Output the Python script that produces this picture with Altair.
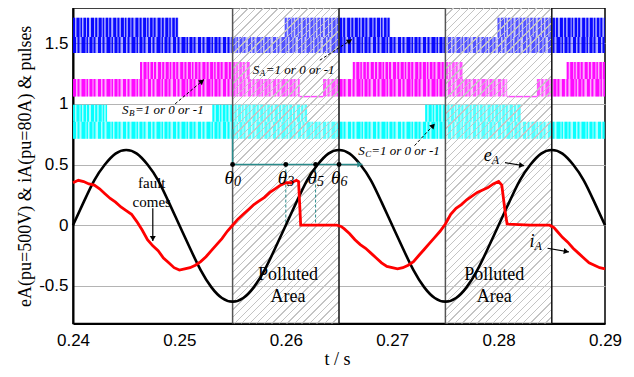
import math
import altair as alt
import pandas as pd

SERIF = "Liberation Serif"
SANS = "Liberation Sans"

# ---------------- axes ----------------
X_MIN, X_MAX = 0.24, 0.29
Y_MIN, Y_MAX = -0.81, 1.79
x_ticks = [0.24, 0.25, 0.26, 0.27, 0.28, 0.29]
y_ticks = [-0.5, 0, 0.5, 1, 1.5]

W, H = 532, 315.5
PXX = W / (X_MAX - X_MIN)
PXY = H / (Y_MAX - Y_MIN)

# ---------------- eA (black) ----------------
eA_t = [round(0.240 + 0.001 * k, 3) for k in range(51)]
eA_v = [0.00, 0.19, 0.37, 0.50, 0.59, 0.62, 0.59, 0.50, 0.37, 0.19,
        0.00, -0.19, -0.37, -0.51, -0.60, -0.63, -0.60, -0.51, -0.37, -0.19,
        0.00, 0.19, 0.37, 0.50, 0.59, 0.62, 0.59, 0.50, 0.37, 0.19,
        0.00, -0.19, -0.37, -0.51, -0.60, -0.63, -0.60, -0.51, -0.37, -0.19,
        0.00, 0.19, 0.37, 0.50, 0.59, 0.62, 0.59, 0.50, 0.37, 0.19,
        0.00]

# ---------------- iA (red) ----------------
iA_t = [0.2400, 0.2405, 0.2410, 0.2415, 0.2420, 0.2425, 0.2430, 0.2435, 0.2440, 0.2445,
        0.2450, 0.2455, 0.2460, 0.2465, 0.2470, 0.2475, 0.2480, 0.2485, 0.2490, 0.2495,
        0.2500, 0.2505, 0.2510, 0.2515, 0.2520, 0.2525, 0.2530, 0.2535, 0.2540, 0.2545,
        0.2550, 0.2555, 0.2560, 0.2565, 0.2570, 0.2575, 0.2580, 0.2585, 0.2590, 0.2595,
        0.2600, 0.2605, 0.2610, 0.2612, 0.2614, 0.2630, 0.2648, 0.2652, 0.2655, 0.2660,
        0.2665, 0.2670, 0.2675, 0.2680, 0.2685, 0.2690, 0.2695, 0.2700, 0.2705, 0.2710,
        0.2715, 0.2720, 0.2725, 0.2730, 0.2735, 0.2740, 0.2745, 0.2750, 0.2755, 0.2760,
        0.2765, 0.2770, 0.2775, 0.2780, 0.2785, 0.2790, 0.2795, 0.2800, 0.2803, 0.2806,
        0.2808, 0.2830, 0.2848, 0.2852, 0.2855, 0.2860, 0.2865, 0.2870, 0.2875, 0.2880,
        0.2885, 0.2890, 0.2895, 0.2900]
iA_v = [0.35, 0.37, 0.36, 0.34, 0.33, 0.30, 0.26, 0.22, 0.19, 0.15,
        0.12, 0.09, 0.03, -0.04, -0.12, -0.17, -0.21, -0.27, -0.31, -0.35,
        -0.37, -0.36, -0.35, -0.33, -0.30, -0.26, -0.21, -0.16, -0.11, -0.05,
        0.00, 0.05, 0.09, 0.13, 0.17, 0.20, 0.23, 0.27, 0.30, 0.33,
        0.35, 0.35, 0.37, 0.36, 0.00, 0.00, 0.00, -0.01, -0.03, -0.07,
        -0.12, -0.16, -0.19, -0.23, -0.27, -0.31, -0.34, -0.35, -0.36, -0.35,
        -0.33, -0.30, -0.25, -0.20, -0.15, -0.10, -0.05, 0.01, 0.09, 0.14,
        0.17, 0.21, 0.24, 0.27, 0.29, 0.31, 0.34, 0.36, 0.33, 0.12,
        0.01, 0.00, 0.00, -0.02, -0.05, -0.10, -0.14, -0.19, -0.23, -0.27,
        -0.31, -0.33, -0.35, -0.36]

# ---------------- pulses ----------------
SA_levels = (1.42, 1.55, 1.71)
SB_levels = (1.06, 1.205, 1.345)
SC_levels = (0.713, 0.853, 0.992)
SA_upper = [(0.2400, 0.2499), (0.2599, 0.2698), (0.2799, 0.2900)]
SA_lower = [(0.2400, 0.2900)]
SB_upper = [(0.2463, 0.2566), (0.2663, 0.2766), (0.2864, 0.2900)]
SB_lower = [(0.2400, 0.2613), (0.2635, 0.2808), (0.2836, 0.2900)]
SB_flat = [(0.2613, 0.2635), (0.2808, 0.2836)]
SC_upper = [(0.2400, 0.2432), (0.2531, 0.2620), (0.2731, 0.2821)]
SC_lower = [(0.2400, 0.2900)]

polluted = [(0.255, 0.265), (0.275, 0.285)]
boundaries = [0.255, 0.265, 0.275, 0.285]
boundary_colors = ["#555555", "#111111", "#555555", "#111111"]

theta_x = [0.255, 0.260, 0.2628, 0.265]
theta_names = ["0", "3", "5", "6"]
theta_y = 0.5

# ---------------- build tables ----------------
rows = []
for (segs, lv, col, kind) in [(SA_upper, (SA_levels[1], SA_levels[2]), "#0000ff", "u"),
                              (SA_lower, (SA_levels[0], SA_levels[1]), "#0000ff", "l"),
                              (SB_upper, (SB_levels[1], SB_levels[2]), "#ff00ff", "u"),
                              (SB_lower, (SB_levels[0], SB_levels[1]), "#ff00ff", "l"),
                              (SC_upper, (SC_levels[1], SC_levels[2]), "#00ffff", "u"),
                              (SC_lower, (SC_levels[0], SC_levels[1]), "#00ffff", "l")]:
    for a, b in segs:
        rows.append(dict(x=a, x2=b, ylo=lv[0], yhi=lv[1], ymid=(lv[0] + lv[1]) / 2,
                         sw=(lv[1] - lv[0]) * PXY, color=col, kind=kind))
pulse_df = pd.DataFrame(rows)
flat_df = pd.DataFrame([dict(x=a, x2=b, y=SB_levels[0], color="#ff00ff") for a, b in SB_flat])

eA_df = pd.DataFrame({"x": eA_t, "y": eA_v})
iA_df = pd.DataFrame({"x": iA_t, "y": iA_v})
pol_df = pd.DataFrame([dict(x=a, x2=b) for a, b in polluted])
bnd_df = pd.DataFrame({"x": boundaries, "color": boundary_colors})

xs = alt.Scale(domain=[X_MIN, X_MAX], nice=False, zero=False)
ys = alt.Scale(domain=[Y_MIN, Y_MAX], nice=False, zero=False)

XAXIS = alt.Axis(
    values=x_ticks, format=".2f", title="t / s", labelFont=SANS, labelFontSize=17,
    labelColor="black", labelPadding=9, labelFlush=False, tickSize=0, domainColor="black",
    domainWidth=2, grid=False, titleFont=SERIF, titleFontSize=18, titleFontWeight="normal",
    titleColor="black", titleX=W / 2 - 2, titleY=36, titleAlign="center", titleBaseline="middle")
YAXIS = alt.Axis(
    values=y_ticks, labelExpr="'' + datum.value", title="eA(pu=500V) & iA(pu=80A) & pulses",
    labelFont=SANS, labelFontSize=17, labelColor="black", labelPadding=5, labelFlush=False,
    tickSize=0, domainColor="black", domainWidth=2, grid=True, gridColor="#b4b4b4", gridWidth=1,
    titleFont=SERIF, titleFontSize=18, titleFontWeight="normal", titleColor="black",
    titleX=-48, titleY=H / 2, titleAngle=270, titleAlign="center", titleBaseline="middle")


def X(f="x"):
    return alt.X(f"{f}:Q", scale=xs, axis=XAXIS)


def Y(f="y"):
    return alt.Y(f"{f}:Q", scale=ys, axis=YAXIS)


# hatch gradient (style only): 45 degree lines, ~7 px apart horizontally
ang = math.radians(45)
Wr, Hr = 0.01 * PXX, H
gx, gy = math.sin(ang) / Hr, math.cos(ang) / Wr
s = (gx + gy) / (gx * gx + gy * gy)
x2g, y2g = s * gx, s * gy
dt_dpx = (x2g / Wr) / (x2g * x2g + y2g * y2g)
N = int(round(1 / (7.5 * dt_dpx)))
LINE = "#c4c4c4"
BG = "rgba(255,255,255,0.3)"
stops = []
for i in range(N):
    o0, o1, o2 = i / N, (i + 0.18) / N, (i + 1) / N
    stops += [alt.GradientStop(offset=o0, color=LINE),
              alt.GradientStop(offset=o1, color=LINE),
              alt.GradientStop(offset=o1, color=BG),
              alt.GradientStop(offset=min(o2, 1.0), color=BG)]
hatch_fill = alt.LinearGradient(gradient="linear", stops=stops, x1=0, y1=0, x2=x2g, y2=y2g)

# ---------------- layers ----------------
pulse_tint = alt.Chart(pulse_df).mark_rect(opacity=0.32).encode(
    x=X("x"), x2="x2", y=Y("ylo"), y2="yhi", color=alt.Color("color:N", scale=None))
pulse_up = alt.Chart(pulse_df[pulse_df.kind == "u"]).mark_rule(
    strokeDash=[2, 1.5, 3, 1, 1.5, 1.5, 2.5, 1, 2, 2, 3, 1.2],
    strokeCap="butt", opacity=0.95).encode(
    x=X("x"), x2="x2", y=Y("ymid"), size=alt.Size("sw:Q", scale=None),
    color=alt.Color("color:N", scale=None))
pulse_lo = alt.Chart(pulse_df[pulse_df.kind == "l"]).mark_rule(
    strokeDash=[3, 1.5, 2, 2, 4, 1, 1.5, 1.5, 3, 1, 2, 2.5],
    strokeCap="butt", opacity=0.95).encode(
    x=X("x"), x2="x2", y=Y("ymid"), size=alt.Size("sw:Q", scale=None),
    color=alt.Color("color:N", scale=None))
flat_lines = alt.Chart(flat_df).mark_rule(strokeWidth=1.5).encode(
    x=X("x"), x2="x2", y=Y("y"), color=alt.Color("color:N", scale=None))

hatch = alt.Chart(pol_df).mark_rect(fill=hatch_fill).encode(
    x=X("x"), x2="x2", y=alt.value(0), y2=alt.value(H))
bnd = alt.Chart(bnd_df).mark_rule(strokeWidth=1.5).encode(
    x=X("x"), color=alt.Color("color:N", scale=None))

# teal construction lines
TEAL = "#2a8c8c"
teal_df = pd.DataFrame([dict(x=0.255, y=0.5, x2=0.2672, y2=0.5),
                        dict(x=0.255, y=0.5, x2=0.255, y2=0.79)])
teal_dash_df = pd.DataFrame([dict(x=theta_x[1], y=theta_y, x2=theta_x[1], y2=0.0),
                             dict(x=theta_x[2], y=theta_y, x2=theta_x[2], y2=0.0)])
teal = alt.Chart(teal_df).mark_rule(color=TEAL, strokeWidth=1.5).encode(
    x=X("x"), y=Y("y"), x2="x2", y2="y2")
teal_dash = alt.Chart(teal_dash_df).mark_rule(color=TEAL, strokeWidth=1, strokeDash=[3, 2]).encode(
    x=X("x"), y=Y("y"), x2="x2", y2="y2")

eA_line = alt.Chart(eA_df).mark_line(color="black", strokeWidth=2.6, interpolate="natural").encode(
    x=X(), y=Y())
iA_line = alt.Chart(iA_df).mark_line(color="#ff0000", strokeWidth=2.8).encode(x=X(), y=Y())

dots = alt.Chart(pd.DataFrame({"x": theta_x, "y": [theta_y] * 4})).mark_circle(
    size=24, color="black", opacity=1).encode(x=X(), y=Y())

# arrows
arrows = [
    dict(x=0.2632, y=1.36, x2=0.2662, y2=1.53, dash=True, color="black"),
    dict(x=0.2496, y=1.00, x2=0.2523, y2=1.20, dash=True, color="black"),
    dict(x=0.2721, y=0.656, x2=0.2740, y2=0.836, dash=True, color="black"),
    dict(x=0.2475, y=0.14, x2=0.2475, y2=-0.13, dash=False, color="black"),
    dict(x=0.2806, y=0.515, x2=0.2824, y2=0.49, dash=False, color="black"),
    dict(x=0.2846, y=-0.19, x2=0.2866, y2=-0.22, dash=False, color="black"),
    dict(x=0.255, y=0.5, x2=0.2672, y2=0.5, dash=False, color=TEAL),
]
arr_df = pd.DataFrame(arrows)
heads = []
for a in arrows:
    dxp = (a["x2"] - a["x"]) * PXX
    dyp = -(a["y2"] - a["y"]) * PXY
    L = math.hypot(dxp, dyp)
    ux, uy = dxp / L, dyp / L
    back = 2.5
    heads.append(dict(x=a["x2"] - ux * back / PXX, y=a["y2"] + uy * back / PXY,
                      ang=math.degrees(math.atan2(dxp, -dyp)) % 360, color=a["color"]))
head_df = pd.DataFrame(heads)
arr_dash = alt.Chart(arr_df[arr_df.dash & (arr_df.color == "black")]).mark_rule(
    strokeWidth=1, strokeDash=[3, 2], color="black").encode(x=X("x"), y=Y("y"), x2="x2", y2="y2")
arr_solid = alt.Chart(arr_df[(~arr_df.dash) & (arr_df.color == "black")]).mark_rule(
    strokeWidth=1.2, color="black").encode(x=X("x"), y=Y("y"), x2="x2", y2="y2")
arr_heads = alt.Chart(head_df).mark_point(shape="triangle-up", filled=True, size=36, opacity=1).encode(
    x=X(), y=Y(), angle=alt.Angle("ang:Q", scale=None), color=alt.Color("color:N", scale=None))


# texts
def off(x, y, dxp, dyp):
    return x + dxp / PXX, y - dyp / PXY


it_rows = []
for (lab, sub, x0, y0) in [("S", "A", 0.2569, 1.28), ("S", "B", 0.2446, 0.95), ("S", "C", 0.2668, 0.61)]:
    it_rows.append(dict(x=x0, y=y0, text=lab, size=13))
    sx, sy = off(x0, y0, 7, 3)
    it_rows.append(dict(x=sx, y=sy, text=sub, size=9))
    rx, ry = off(x0, y0, 13, 0)
    it_rows.append(dict(x=rx, y=ry, text="=1 or 0 or -1", size=13))
for (lab, sub, x0, y0, d) in [("e", "A", 0.2786, 0.57, 8), ("i", "A", 0.2829, -0.135, 5)]:
    it_rows.append(dict(x=x0, y=y0, text=lab, size=18))
    sx, sy = off(x0, y0, d, 4)
    it_rows.append(dict(x=sx, y=sy, text=sub, size=12))
for tx, nm in zip(theta_x, theta_names):
    a1, b1 = off(tx, 0.39, -8, 0)
    it_rows.append(dict(x=a1, y=b1, text="θ", size=19))
    a2, b2 = off(tx, 0.39, 1.5, 4)
    it_rows.append(dict(x=a2, y=b2, text=nm, size=14))
it_df = pd.DataFrame(it_rows)
it_text = alt.Chart(it_df).mark_text(font=SERIF, fontStyle="italic", align="left", baseline="middle",
                                     color="black").encode(
    x=X(), y=Y(), text="text:N", size=alt.Size("size:Q", scale=None))

ct_df = pd.DataFrame([
    dict(x=0.2474, y=0.35, text="fault", size=15),
    dict(x=0.2474, y=0.19, text="comes", size=15),
    dict(x=0.2602, y=-0.41, text="Polluted", size=18),
    dict(x=0.2602, y=-0.59, text="Area", size=18),
    dict(x=0.2796, y=-0.41, text="Polluted", size=18),
    dict(x=0.2796, y=-0.59, text="Area", size=18),
])
ct_text = alt.Chart(ct_df).mark_text(font=SERIF, align="center", baseline="middle", color="black").encode(
    x=X(), y=Y(), text="text:N", size=alt.Size("size:Q", scale=None))

chart = alt.layer(
    pulse_tint, pulse_up, pulse_lo, flat_lines, hatch, bnd, teal, teal_dash,
    eA_line, iA_line, dots, arr_dash, arr_solid, arr_heads, it_text, ct_text,
).properties(
    width=W, height=H,
    padding={"left": 65, "top": 0, "right": 21, "bottom": 45},
    autosize=alt.AutoSizeParams(type="none"),
).configure_view(stroke="black", strokeWidth=1.5)

chart.save("out.html", embed_options={"renderer": "svg", "actions": False})
